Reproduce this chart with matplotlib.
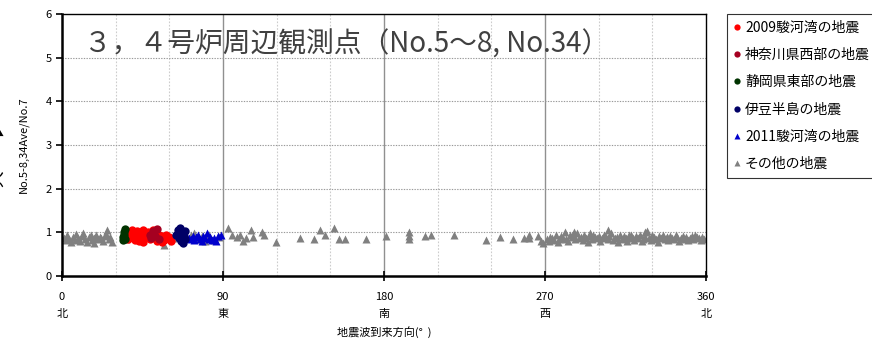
import numpy as np
import matplotlib
matplotlib.use('Agg')
import matplotlib.pyplot as plt
from matplotlib.lines import Line2D

plt.rcParams['font.family'] = ['Noto Sans CJK JP', 'DejaVu Sans']

# 2009駿河湾の地震
red_deg = [36, 37, 38, 39, 40, 41, 42, 43, 44, 45, 45.5, 46, 47, 48, 49, 50, 51, 53, 54, 55,
           56, 57, 58, 59, 60, 61, 56, 52, 39, 43]
red_val = [0.95, 0.85, 1.0, 0.9, 0.98, 0.82, 1.02, 0.92, 0.88, 1.05, 0.78, 0.95, 0.9, 1.0, 0.85, 0.93, 1.05, 0.8, 0.95, 0.88,
           0.92, 0.82, 0.95, 0.86, 0.9, 0.8, 0.78, 0.98, 1.05, 0.8]
# 神奈川県西部の地震
crim_deg = [49, 50, 51, 52, 53, 54]
crim_val = [0.95, 0.88, 1.02, 0.92, 1.08, 0.85]
# 静岡県東部の地震
green_deg = [34, 34, 34.5, 35, 35, 34.5]
green_val = [0.82, 0.9, 1.0, 1.08, 0.85, 0.95]
# 伊豆半島の地震
navy_deg = [64, 65, 65.5, 66, 66.5, 67, 67.5, 68, 68.5, 69]
navy_val = [0.95, 1.05, 0.88, 1.1, 0.8, 0.98, 0.75, 0.92, 1.02, 0.85]
# 2011駿河湾の地震
blue_deg = [71, 72, 73, 74, 75, 76, 77, 78, 79, 80, 81, 82, 83, 84, 85, 86, 87, 89]
blue_val = [0.88, 0.85, 0.92, 0.82, 0.9, 0.95, 0.85, 0.8, 0.92, 0.88, 0.98, 0.84, 0.9, 0.82, 0.88, 0.8, 0.92, 0.95]
# その他の地震
gray_deg = [1, 2, 3, 4, 5, 6, 7, 8, 9, 10, 11, 12, 13, 14, 15, 16, 17, 18, 19, 20,
            21, 22, 23, 24, 25, 26, 27, 28, 25, 18,
            36, 40, 45, 52, 57, 62, 66, 70, 72, 74, 76, 78, 80, 82, 85, 88,
            93, 95, 98, 99.5, 101, 103, 105.5, 107, 112, 113, 119.6,
            133, 141, 144, 147, 152, 155, 158, 170, 181, 194, 194, 194, 203, 206, 219,
            237, 245, 252, 258, 261, 261, 266, 268, 269,
            271, 272, 273, 274, 275, 276, 277, 278, 279, 280, 281, 282, 283, 284, 285, 286,
            287, 288, 289, 290, 291, 292, 293, 294, 295, 296, 297, 298, 299, 300, 301, 302,
            303, 304, 305, 306, 307, 308, 309, 310, 311, 312, 313, 314, 315, 316, 317, 318,
            319, 320, 321, 322, 323, 324, 325, 326, 327, 328, 329, 330, 331, 332, 333, 334,
            335, 336, 337, 338, 339, 340, 341, 342, 343, 344, 345, 346, 347, 348, 349, 350,
            351, 352, 353, 354, 355, 356, 357, 358, 359, 286, 295, 305, 318, 326, 338]
gray_val = [0.88, 0.82, 0.95, 0.85, 0.78, 0.9, 0.83, 0.97, 0.87, 0.8, 0.92, 0.98, 0.85, 0.78, 0.9, 0.95, 0.82, 0.88, 0.93, 0.84,
            0.9, 0.87, 0.8, 0.95, 0.92, 0.85, 0.9, 0.78, 1.05, 0.75,
            0.85, 0.9, 0.82, 0.88, 0.72, 0.88, 0.9, 0.88, 0.95, 0.98, 0.85, 0.92, 0.8, 0.95, 0.82, 0.9,
            1.1, 0.95, 0.9, 0.95, 0.8, 0.88, 1.05, 0.9, 1.0, 0.93, 0.78,
            0.87, 0.85, 1.05, 0.95, 1.1, 0.85, 0.85, 0.85, 0.92, 1.0, 0.92, 0.85, 0.92, 0.93, 0.95,
            0.82, 0.9, 0.85, 0.86, 0.95, 0.88, 0.92, 0.8, 0.75,
            0.85, 0.8, 0.9, 0.88, 0.82, 0.95, 0.78, 0.85, 0.92, 0.88, 1.0, 0.85, 0.8, 0.95, 0.9, 0.92,
            0.85, 0.98, 0.88, 0.9, 0.82, 0.95, 0.88, 0.78, 0.92, 0.85, 0.95, 0.9, 0.86, 0.92, 0.8, 0.88,
            0.95, 0.9, 0.85, 0.92, 0.98, 0.82, 0.88, 0.9, 0.78, 0.95, 0.85, 0.92, 0.88, 0.8, 0.95, 0.9,
            0.86, 0.82, 0.92, 0.88, 0.95, 0.8, 0.85, 0.9, 1.02, 0.88, 0.82, 0.95, 0.9, 0.85, 0.78, 0.92,
            0.88, 0.95, 0.85, 0.9, 0.82, 0.92, 0.88, 0.85, 0.95, 0.9, 0.8, 0.88, 0.92, 0.85, 0.9, 0.82,
            0.88, 0.92, 0.85, 0.95, 0.9, 0.88, 0.82, 0.9, 0.85, 1.0, 0.98, 1.05, 0.95, 1.0, 0.9]

x_ticks = [0, 90, 180, 270, 360]
x_ticklabels = ['0\n北', '90\n東', '180\n南', '270\n西', '360\n北']
labels = ['2009駿河湾の地震', '神奈川県西部の地震', '静岡県東部の地震', '伊豆半島の地震', '2011駿河湾の地震', 'その他の地震']
colors = ['#ff0000', '#a50021', '#003300', '#000066', '#0000cc', '#808080']

fig = plt.figure(figsize=(8.72, 3.42), dpi=100)
ax = fig.add_axes([62 / 872, 66 / 342, 644 / 872, 262 / 342])

# grid
for v in [30, 60, 120, 150, 210, 240, 300, 330]:
    ax.axvline(v, color='#cccccc', lw=0.8, ls=(0, (1.5, 1.5)), zorder=0)
for v in [90, 180, 270]:
    ax.axvline(v, color='#909090', lw=1.0, zorder=0)
for v in range(1, 6):
    ax.axhline(v, color='#999999', lw=0.8, ls=(0, (1.2, 1.2)), zorder=0)

ms = 6
ax.plot(gray_deg, gray_val, '^', color=colors[5], ms=ms, mec='none', zorder=2)
ax.plot(red_deg, red_val, 'o', color=colors[0], ms=ms, mec='none', zorder=3)
ax.plot(crim_deg, crim_val, 'o', color=colors[1], ms=ms, mec='none', zorder=3)
ax.plot(green_deg, green_val, 'o', color=colors[2], ms=ms, mec='none', zorder=3)
ax.plot(navy_deg, navy_val, 'o', color=colors[3], ms=ms, mec='none', zorder=3)
ax.plot(blue_deg, blue_val, '^', color=colors[4], ms=ms, mec='none', zorder=2.5)

ax.set_xlim(0, 360)
ax.set_ylim(0, 6)
ax.set_xticks(x_ticks)
ax.set_xticklabels(x_ticklabels, fontsize=8, linespacing=1.9)
ax.set_yticks(range(0, 7))
ax.tick_params(axis='y', labelsize=8, direction='out', length=4, width=1.2)
ax.tick_params(axis='x', direction='inout', length=7, width=1.2, pad=8)
for s in ['left', 'bottom']:
    ax.spines[s].set_linewidth(1.8)
for s in ['top', 'right']:
    ax.spines[s].set_linewidth(1.0)

ax.set_xlabel('地震波到来方向(°  )', fontsize=8, labelpad=5)
ax.set_ylabel('No.5-8,34Ave/No.7', fontsize=8, labelpad=12)

ax.text(0.034, 0.885, '３，４号炉周辺観測点（No.5～8, No.34）', transform=ax.transAxes,
        fontsize=20, color='#404040', va='center')

# cut-off label at the left edge
fig.text(-0.002, 0.55, '大　　▶', rotation=90, fontsize=12, ha='center', va='center')

handles = []
for i, lab in enumerate(labels):
    m = '^' if i >= 4 else 'o'
    handles.append(Line2D([], [], ls='none', marker=m, color=colors[i], ms=4.5, mec='none', label=lab))
leg = fig.legend(handles=handles, loc='upper left', bbox_to_anchor=(727 / 872, 1 - 14 / 342),
                 fontsize=10, frameon=True, fancybox=False, edgecolor='black',
                 handlelength=0.5, handletextpad=0.3, labelspacing=0.95, borderpad=0.5,
                 borderaxespad=0)
leg.get_frame().set_linewidth(0.8)

fig.savefig('out.png', dpi=100)
